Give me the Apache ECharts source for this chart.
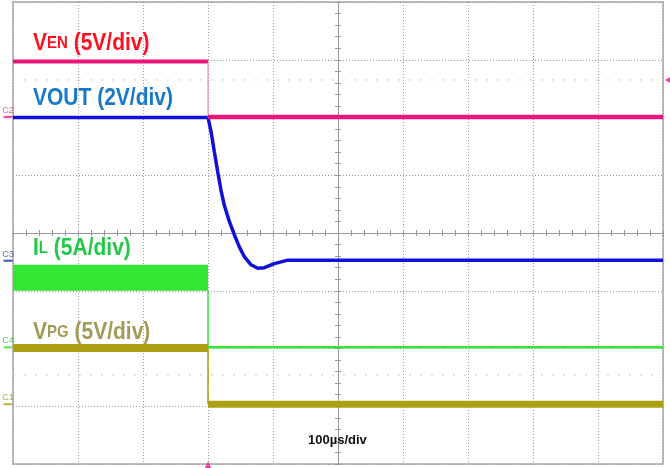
<!DOCTYPE html>
<html>
<head>
<meta charset="utf-8">
<script src="https://cdn.jsdelivr.net/npm/echarts@6/dist/echarts.min.js"></script>
<style>
html,body{margin:0;padding:0;background:#fff;}
#chart{width:670px;height:468px;}
</style>
</head>
<body>
<div id="chart"></div>
<script>
// Time axis: microseconds (100 µs/div), 0 = enable falling edge
const timeRange = [-300, 700];
const edgeTime = 0;
// Vertical position in screen divisions (0 = bottom, 8 = top)
const venLevels = [6.97, 6.01];          // before, after edge
const voutTime = [-300, 0, 4.6, 9.7, 14.9, 20, 25.1, 32.8, 40.5, 48.2, 55.9, 66.2, 76.5, 86.8, 102, 123, 160, 250, 400, 550, 700];
const voutLevel = [6.0, 6.0, 5.76, 5.41, 5.06, 4.74, 4.48, 4.2, 3.97, 3.76, 3.59, 3.45, 3.39, 3.4, 3.47, 3.53, 3.53, 3.53, 3.53, 3.53, 3.53];
const ilRipple = [3.0, 3.45];            // bottom, top of the switching band before edge
const ilAfter = 2.02;
const vpgLevels = [2.01, 1.035];
const channelNames = ['C2', 'C3', 'C4', 'C1'];
const channelLevels = [6.01, 3.52, 2.02, 1.035];
const triggerLevel = 6.65;
const cursorLevels = [6.65, 1.54];

const FONT = "'Liberation Sans', Arial, Helvetica, sans-serif";
const DIV_PX = 57.75;
const C = {
  ven: '#e8157d', vout: '#1010d8', il: '#33e633', vpg: '#aaa012',
  venTxt: '#ff1020', voutTxt: '#1a78c8', ilTxt: '#22c848', vpgTxt: '#a39a55'
};

function seg(t0, t1, v) { return [[t0, v], [t1, v]]; }
function line(name, data, color, width, z) {
  return { name, type: 'line', data, symbol: 'none', silent: true, animation: false,
    lineStyle: { color, width, cap: 'butt' }, z: z || 2, xAxisIndex: 0, yAxisIndex: 0 };
}

const series = [];
cursorLevels.forEach((lv, i) => {
  const s = line('cursor' + i, seg(timeRange[0], timeRange[1], lv), '#c8c8c8', 1, 1);
  s.lineStyle.type = [2, 9];
  series.push(s);
});
// IL switching band: drawn as a line at the band middle, as thick as the band
const ilMid = (ilRipple[0] + ilRipple[1]) / 2;
series.push(line('ilBand', seg(timeRange[0], edgeTime, ilMid), C.il, (ilRipple[1] - ilRipple[0]) * DIV_PX, 3));
series.push(line('ilEdge', [[edgeTime, ilRipple[0]], [edgeTime, ilAfter]], C.il, 1.5, 3));
series.push(line('ilAfter', seg(edgeTime, timeRange[1], ilAfter), C.il, 2.5, 3));
// VPG
series.push(line('vpgBefore', seg(timeRange[0], edgeTime, vpgLevels[0]), C.vpg, 8, 4));
series.push(line('vpgEdge', [[edgeTime, vpgLevels[0]], [edgeTime, vpgLevels[1]]], C.vpg, 1.5, 4));
series.push(line('vpgAfter', seg(edgeTime, timeRange[1], vpgLevels[1]), C.vpg, 7, 4));
// VOUT
series.push(line('vout', voutTime.map((t, i) => [t, voutLevel[i]]), C.vout, 3.5, 5));
// VEN
series.push(line('venBefore', seg(timeRange[0], edgeTime, venLevels[0]), C.ven, 4, 6));
series.push(line('venEdge', [[edgeTime, venLevels[0]], [edgeTime, venLevels[1]]], '#e07aa8', 1, 6));
series.push(line('venAfter', seg(edgeTime, timeRange[1], venLevels[1]), C.ven, 4.5, 6));

// channel ground markers on the left edge
const chanMarkColors = [C.ven, '#1020c0', '#30dd30', C.vpg];
const chanTextColors = ['#b84a80', '#3a4a98', '#30b030', '#9a9228'];
series.push({
  type: 'scatter', clip: false, silent: true, animation: false, z: 10,
  symbol: 'rect', symbolSize: [9, 2], symbolOffset: [-5, 0],
  data: channelNames.map((n, i) => ({
    value: [timeRange[0], channelLevels[i]], name: n,
    itemStyle: { color: chanMarkColors[i] },
    label: { show: true, formatter: n, position: 'top', distance: 1, offset: [0, 0],
      fontSize: 9, fontFamily: FONT, color: chanTextColors[i] }
  }))
});
// trigger markers
series.push({
  type: 'scatter', clip: false, silent: true, animation: false, z: 10,
  symbol: 'triangle',
  data: [
    { value: [timeRange[1], triggerLevel], symbolRotate: 90, symbolSize: [7, 6], symbolOffset: [5, 0], itemStyle: { color: C.ven } },
    { value: [edgeTime, 0], symbolSize: [7, 7], symbolOffset: [0, 1], itemStyle: { color: C.ven } }
  ]
});

const dotted = { color: '#9a9a9a', width: 1, type: [1, 2] };
const hiddenLabel = { show: false };
const SY = 1.15;
function label(text, top, color) {
  const rich = {
    a: { fontSize: 21, fontWeight: 'bold', fontFamily: FONT, fill: color },
    b: { fontSize: 15, fontWeight: 'bold', fontFamily: FONT, fill: color }
  };
  return { type: 'text', left: 33, top, z: 20, scaleY: SY, style: { text, fill: color, rich } };
}
const option = {
  animation: false,
  grid: { left: 13, right: 7, top: 2, bottom: 4, show: true, borderColor: '#a8a8a8', borderWidth: 1.5, containLabel: false },
  xAxis: [
    { type: 'value', min: timeRange[0], max: timeRange[1], interval: 100,
      axisLine: { show: false }, axisTick: { show: false }, axisLabel: hiddenLabel,
      splitLine: { show: true, lineStyle: dotted } },
    { type: 'value', min: -5, max: 5, interval: 0.2,
      axisLine: { show: true, onZero: true, onZeroAxisIndex: 1, lineStyle: { color: '#999', width: 1 } },
      axisTick: { show: true, inside: true, length: 3, lineStyle: { color: '#999' } },
      axisLabel: hiddenLabel, splitLine: { show: false } },
    { type: 'value', min: -5, max: 5, interval: 0.2,
      axisLine: { show: false, onZero: true, onZeroAxisIndex: 1 },
      axisTick: { show: true, inside: false, length: 3, lineStyle: { color: '#999' } },
      axisLabel: hiddenLabel, splitLine: { show: false } }
  ],
  yAxis: [
    { type: 'value', min: 0, max: 8, interval: 1,
      axisLine: { show: false }, axisTick: { show: false }, axisLabel: hiddenLabel,
      splitLine: { show: true, lineStyle: dotted } },
    { type: 'value', min: -4, max: 4, interval: 0.2,
      axisLine: { show: true, onZero: true, onZeroAxisIndex: 1, lineStyle: { color: '#999', width: 1 } },
      axisTick: { show: true, inside: true, length: 3, lineStyle: { color: '#999' } },
      axisLabel: hiddenLabel, splitLine: { show: false } },
    { type: 'value', min: -4, max: 4, interval: 0.2,
      axisLine: { show: false, onZero: true, onZeroAxisIndex: 1 },
      axisTick: { show: true, inside: false, length: 3, lineStyle: { color: '#999' } },
      axisLabel: hiddenLabel, splitLine: { show: false } }
  ],
  graphic: [
    label('{a|V}{b|EN}{a| (5V/div)}', 31, C.venTxt),
    label('{a|VOUT (2V/div)}', 86, C.voutTxt),
    label('{a|I}{b|L}{a| (5A/div)}', 236, C.ilTxt),
    label('{a|V}{b|PG}{a| (5V/div)}', 320, C.vpgTxt),
    { type: 'text', left: 308, top: 434, z: 20, style: {
      text: '100µs/div', fill: '#111', fontSize: 13, fontWeight: 'bold', fontFamily: FONT } }
  ],
  series
};
const chart = echarts.init(document.getElementById('chart'), null, { renderer: 'canvas' });
chart.setOption(option);
</script>
</body>
</html>
